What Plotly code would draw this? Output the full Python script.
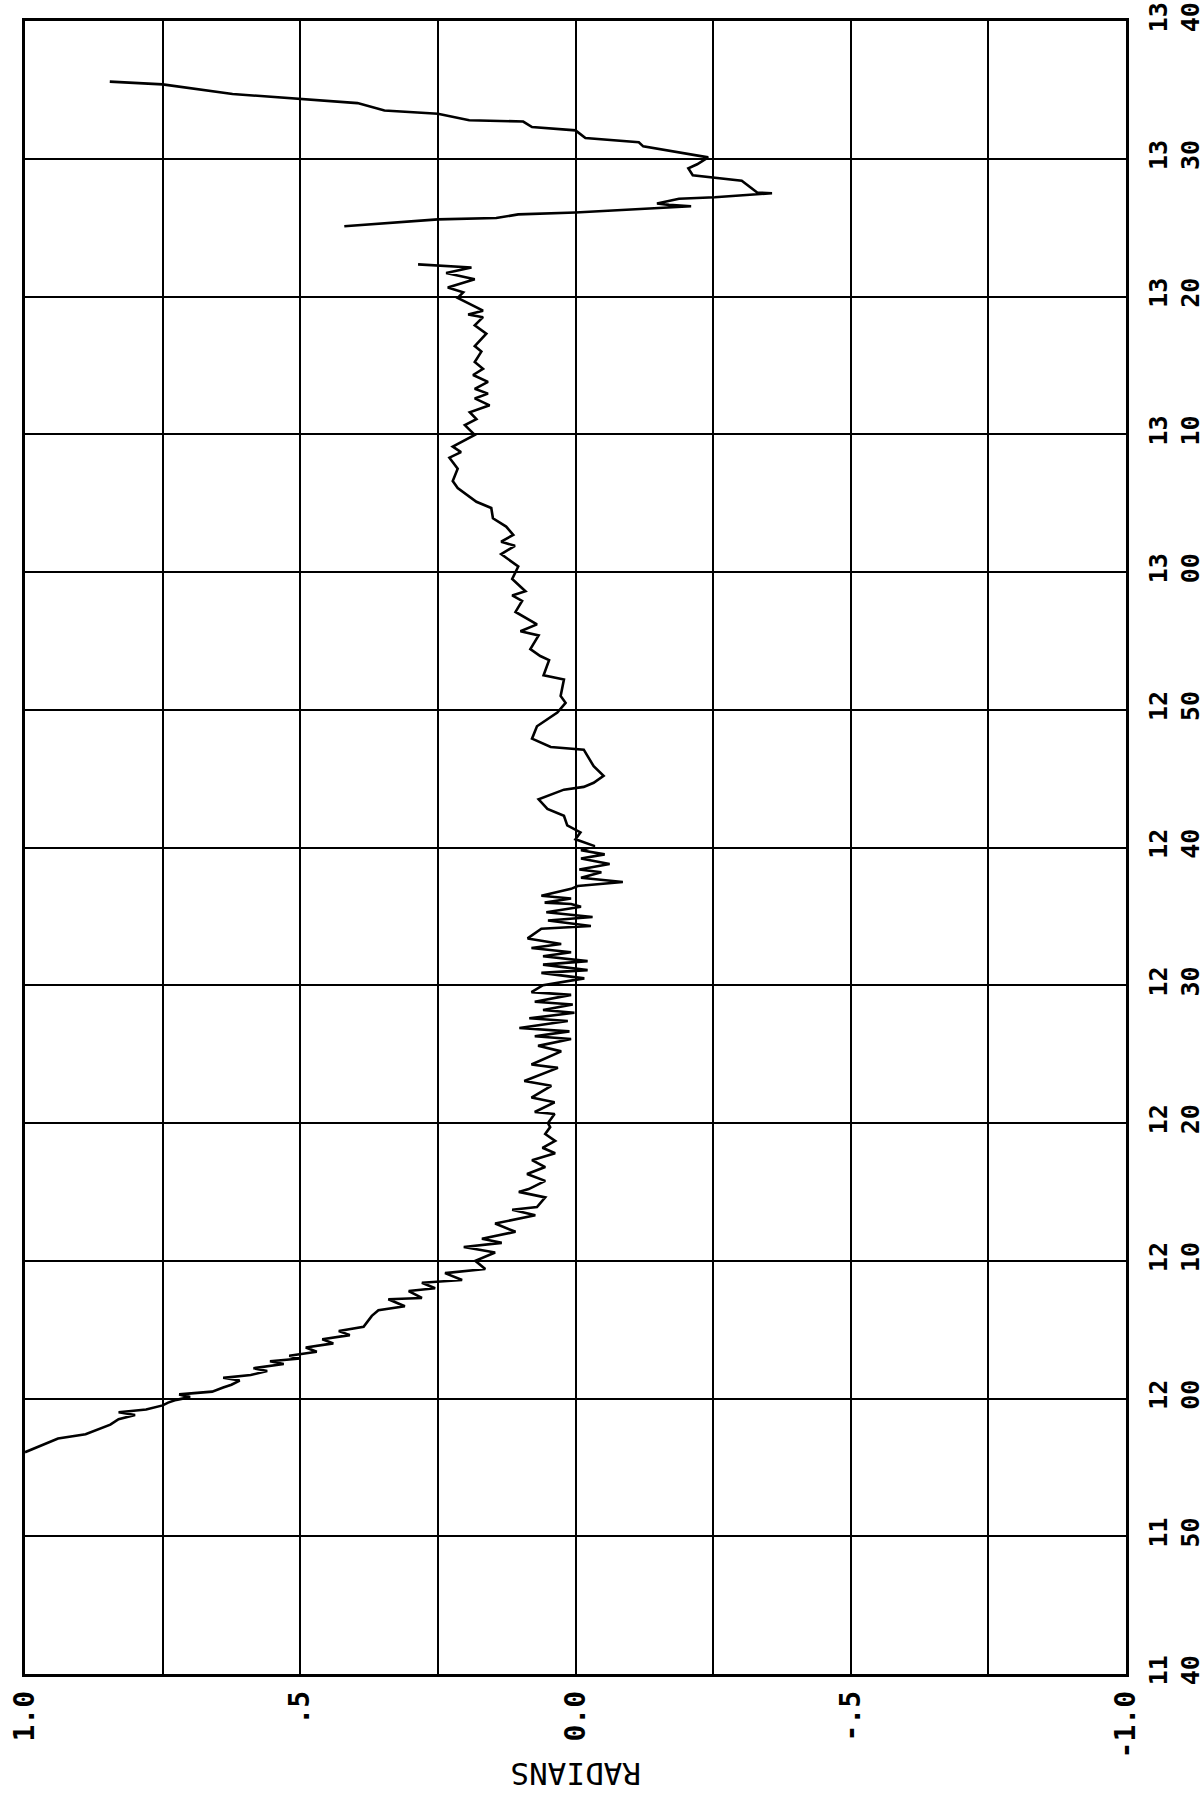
import plotly.graph_objects as go

# ---- data: phase (radians) vs time (minutes after 11:40) ----
seg1_minutes = [
    16.1, 16.6, 17.1, 17.4, 18.1, 18.5, 18.8, 19.0, 19.2, 19.5, 19.7, 19.9, 20.1, 20.3,
    20.5, 20.8, 21.0, 21.3, 21.5, 21.7, 22.0, 22.2, 22.5, 22.7, 22.9, 23.1, 23.4, 23.7,
    24.0, 24.3, 24.6, 24.9, 25.2, 26.0, 26.4, 26.7, 27.2, 27.3, 27.8, 28.0, 28.4, 28.6,
    29.1, 29.4, 30.0, 30.6, 31.0, 31.3, 31.6, 32.1, 32.7, 33.3, 33.7, 33.9, 34.6, 35.0,
    35.2, 35.8, 36.3, 36.8, 37.3, 37.8, 38.2, 38.7, 39.2, 39.7, 40.0, 40.65, 40.8, 41.5,
    41.85, 42.7, 43.05, 44.0, 44.25, 45.2, 45.6, 46.1, 46.3, 46.65, 46.9, 47.4, 47.6,
    48.0, 48.2, 48.6, 48.8, 49.3, 49.5, 50.0, 50.5, 50.9, 51.1, 51.5, 51.75, 52.1, 52.4,
    52.7, 53.0, 53.4, 54.1, 54.3, 54.7, 54.95, 55.3, 55.7, 55.9, 56.0, 56.3, 56.5, 57.0,
    57.2, 57.5, 57.8, 58.2, 58.4, 58.8, 59.2, 59.5, 59.8, 60.1, 60.6, 61.1, 61.6, 62.3,
    62.8, 63.5, 64.2, 64.4, 64.7, 65.2, 65.9, 67.1, 67.3, 67.9, 68.8, 69.8, 70.5, 71.0,
    72.2, 72.5, 73.6, 73.9, 74.4, 75.4, 75.7, 76.2, 77.1, 77.9, 78.3, 78.6, 79.5, 80.4,
    81.3, 81.9, 82.2, 82.7, 83.3, 83.9, 84.65, 85.1, 86.1, 86.6, 87.5, 88.3, 88.7, 89.1,
    89.95, 90.66, 91.1, 91.6, 92.1, 92.6, 92.95, 93.3, 93.8, 94.3, 94.75, 95.25, 96.0,
    96.4, 97.3, 97.9, 98.5, 98.7, 98.97, 99.9, 100.3, 100.65, 101.25, 101.7, 102.1,
    102.25, 102.33,
]
seg1_radians = [
    1.0, 0.97, 0.94, 0.89, 0.845, 0.83, 0.80, 0.83, 0.78, 0.75, 0.74, 0.725, 0.70, 0.72,
    0.66, 0.64, 0.625, 0.61, 0.64, 0.59, 0.56, 0.585, 0.53, 0.555, 0.50, 0.52, 0.47, 0.49,
    0.44, 0.46, 0.41, 0.43, 0.385, 0.37, 0.358, 0.31, 0.34, 0.279, 0.303, 0.255, 0.279, 0.206,
    0.237, 0.164, 0.182, 0.146, 0.203, 0.134, 0.17, 0.109, 0.146, 0.073, 0.115, 0.07, 0.055, 0.103,
    0.085, 0.055, 0.088, 0.055, 0.079, 0.037, 0.06, 0.037, 0.055, 0.046, 0.05, 0.038, 0.074, 0.038,
    0.08, 0.044, 0.093, 0.032, 0.08, 0.026, 0.068, 0.008, 0.074, 0.011, 0.102, 0.014, 0.084,
    0.002, 0.059, 0.005, 0.074, 0.008, 0.08, 0.059, -0.016, 0.062, -0.022, 0.059, -0.022, 0.059, 0.008,
    0.08, 0.026, 0.087, 0.062, -0.028, 0.05, -0.031, 0.053, -0.010, 0.008, 0.056, 0.008, 0.062, 0.008,
    -0.004, -0.086, -0.010, -0.047, -0.007, -0.062, -0.010, -0.053, -0.010, -0.035, 0.0, -0.009, 0.015, 0.021,
    0.051, 0.067, 0.021, -0.015, -0.033, -0.051, -0.033, -0.015, 0.045, 0.079, 0.07, 0.033, 0.018, 0.027,
    0.021, 0.058, 0.048, 0.064, 0.082, 0.067, 0.10, 0.07, 0.109, 0.097, 0.115, 0.091, 0.115, 0.104,
    0.135, 0.11, 0.135, 0.113, 0.126, 0.15, 0.153, 0.18, 0.214, 0.223, 0.214, 0.229, 0.208, 0.223,
    0.183, 0.201, 0.18, 0.192, 0.156, 0.183, 0.159, 0.183, 0.159, 0.186, 0.168, 0.183, 0.171,
    0.183, 0.162, 0.183, 0.168, 0.195, 0.168, 0.214, 0.204, 0.232, 0.183, 0.235, 0.189,
    0.253, 0.286,
]

seg2_minutes = [
    105.1, 105.6, 105.7, 105.96, 106.1, 106.55, 106.65, 106.75, 107.1, 107.2, 107.5, 107.55,
    108.4, 108.8, 109.3, 109.6, 110.1, 110.9, 111.2, 111.5, 112.06, 112.3, 112.7, 112.8,
    113.27, 113.5, 114.04, 114.36, 114.7, 115.4, 115.6,
]
seg2_radians = [
    0.42, 0.25, 0.144, 0.104, 0.0, -0.21, -0.17, -0.148, -0.188, -0.253, -0.357, -0.33,
    -0.302, -0.213, -0.205, -0.221, -0.241, -0.123, -0.115, -0.018, 0.0, 0.079, 0.095, 0.193,
    0.25, 0.347, 0.396, 0.5, 0.623, 0.75, 0.846,
]

radian_ticks = [1.0, 0.75, 0.5, 0.25, 0.0, -0.25, -0.5, -0.75, -1.0]
radian_labels = ["1.0", "", ".5", "", "0.0", "", "-.5", "", "-1.0"]
time_ticks = [0, 10, 20, 30, 40, 50, 60, 70, 80, 90, 100, 110, 120]
time_labels = ["11<br>40", "11<br>50", "12<br>00", "12<br>10", "12<br>20", "12<br>30",
               "12<br>40", "12<br>50", "13<br>00", "13<br>10", "13<br>20", "13<br>30",
               "13<br>40"]

FONT = "DejaVu Sans Mono"

fig = go.Figure()
fig.add_trace(go.Scatter(x=seg1_radians, y=seg1_minutes, mode="lines",
                         line=dict(color="black", width=2.6), hoverinfo="skip"))
fig.add_trace(go.Scatter(x=seg2_radians, y=seg2_minutes, mode="lines",
                         line=dict(color="black", width=2.6), hoverinfo="skip"))

fig.update_layout(
    width=1204, height=1796,
    margin=dict(l=25, r=78, t=21, b=122, autoexpand=False),
    paper_bgcolor="white", plot_bgcolor="white",
    showlegend=False,
    xaxis=dict(
        range=[1.0, -1.0], tickmode="array", tickvals=radian_ticks, ticktext=radian_labels,
        tickangle=-90, showgrid=True, gridcolor="black", gridwidth=1.6,
        showline=True, linecolor="black", linewidth=2.5, mirror=True,
        zeroline=False, ticks="", ticklabelstandoff=3, automargin=False,
        tickfont=dict(family=FONT, size=28, color="black", weight="bold"),
    ),
    yaxis=dict(
        range=[0, 120], side="right", tickmode="array", tickvals=time_ticks, ticktext=time_labels,
        tickangle=-90, showgrid=True, gridcolor="black", gridwidth=1.6,
        showline=True, linecolor="black", linewidth=2.5, mirror=True,
        zeroline=False, ticks="", ticklabelstandoff=8, automargin=False,
        tickfont=dict(family=FONT, size=25, color="black", weight="bold"),
    ),
)

fig.add_annotation(
    text="RADIANS", x=0.5, y=-(1774 - 1674) / 1653, xref="paper", yref="paper",
    xanchor="center", yanchor="middle", showarrow=False, textangle=180,
    font=dict(family=FONT, size=31, color="black"),
)

fig.write_html("out.html")
